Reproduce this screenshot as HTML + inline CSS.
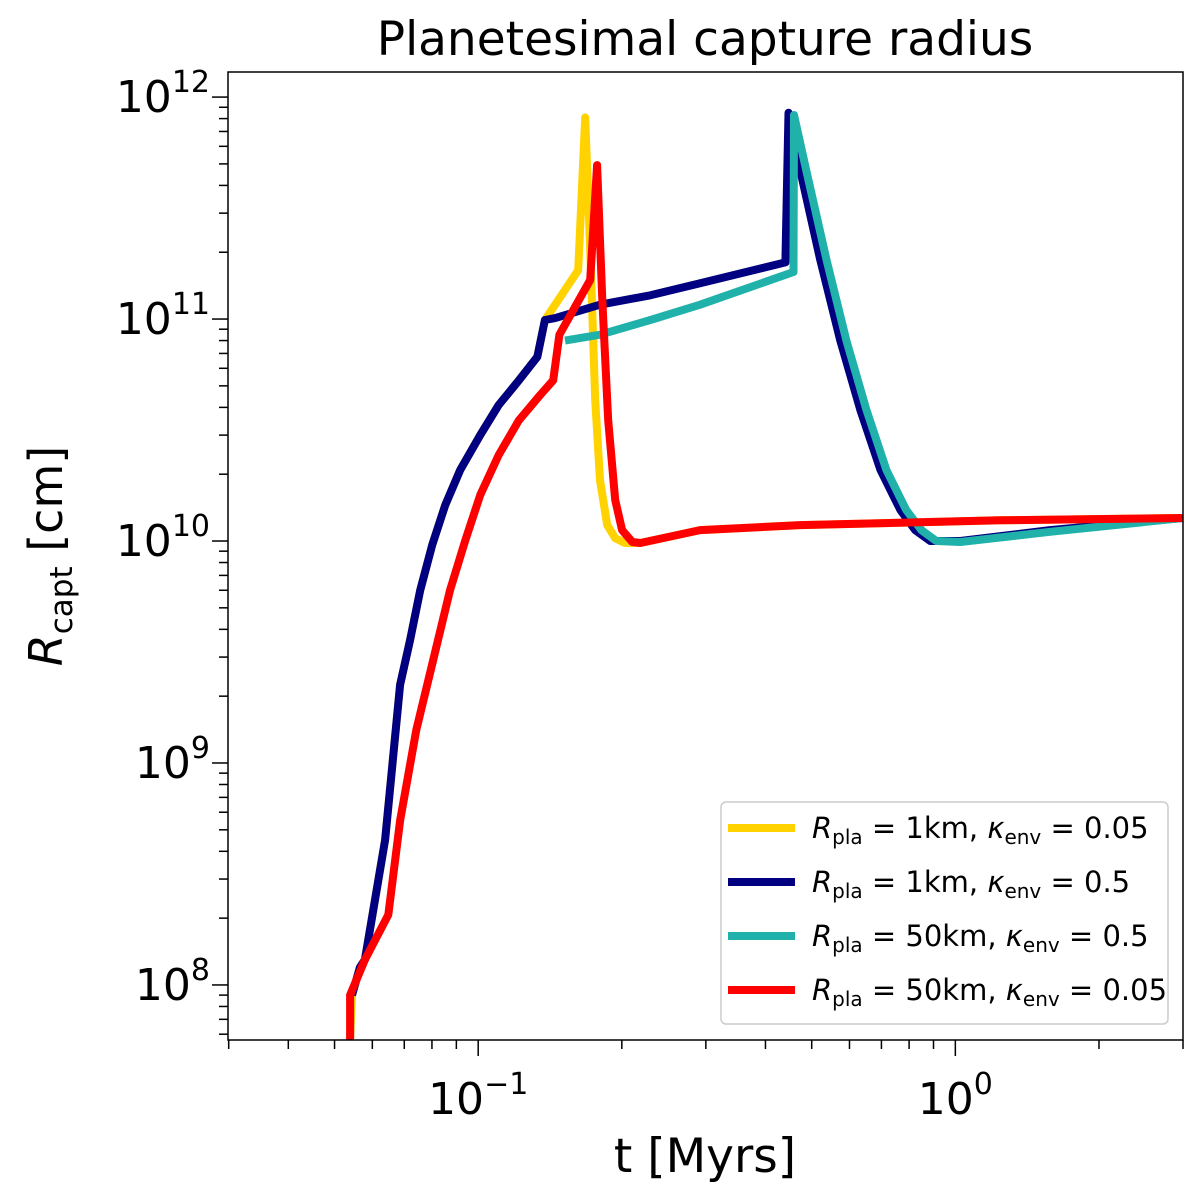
<!DOCTYPE html>
<html><head><meta charset="utf-8"><style>
body{margin:0;background:#fff;}
svg{display:block;font-family:"DejaVu Sans","Liberation Sans",sans-serif;}
</style></head><body>
<svg id="chart" width="1200" height="1200" viewBox="0 0 1200 1200">
<rect width="1200" height="1200" fill="#fff"/>
<text x="705" y="55" font-size="47" text-anchor="middle">Planetesimal capture radius</text>
<g id="plot"></g>
<text x="705" y="1172" font-size="47" text-anchor="middle">t [Myrs]</text>
<text transform="translate(62,556) rotate(-90)" font-size="46" text-anchor="middle"><tspan font-style="italic">R</tspan><tspan font-size="31" dy="10">capt</tspan><tspan dy="-10"> [cm]</tspan></text>
</svg>
<script>
const xTicks=[0.1,1];
const yTicks=[1e8,1e9,1e10,1e11,1e12];
const yellowT=[0.0539,0.0544,0.0565,0.0579,0.0638,0.0686,0.072,0.0756,0.0801,0.0853,0.0917,0.101,0.1104,0.1217,0.133,0.138,0.162,0.1676,0.1717,0.1759,0.180,0.1864,0.1937,0.203,0.2186,0.2918,0.473,1.242,3.0];
const yellowR=[5.65e7,9e7,1.2e8,1.3e8,4.5e8,2.25e9,3.58e9,6.0e9,9.6e9,1.45e10,2.09e10,3.0e10,4.1e10,5.3e10,6.75e10,9.9e10,1.66e11,8.1e11,2.05e11,4.32e10,1.88e10,1.18e10,1.03e10,9.8e9,9.8e9,1.12e10,1.18e10,1.24e10,1.27e10];
const navyT=[0.0544,0.0565,0.0579,0.0638,0.0686,0.072,0.0756,0.0801,0.0853,0.0917,0.101,0.1104,0.1217,0.133,0.138,0.145,0.180,0.2296,0.2918,0.4405,0.447,0.473,0.521,0.574,0.632,0.697,0.767,0.824,0.886,1.024,1.58,3.0];
const navyR=[9e7,1.2e8,1.3e8,4.5e8,2.25e9,3.58e9,6.0e9,9.6e9,1.45e10,2.09e10,3.0e10,4.1e10,5.3e10,6.75e10,9.9e10,1.01e11,1.16e11,1.28e11,1.45e11,1.8e11,8.5e11,4.69e11,1.85e11,8.0e10,3.9e10,2.09e10,1.38e10,1.12e10,1.0e10,1.0e10,1.12e10,1.27e10];
const tealT=[0.152,0.180,0.2296,0.2918,0.458,0.459,0.487,0.537,0.591,0.651,0.717,0.789,0.849,0.912,1.024,1.58,3.0];
const tealR=[8.0e10,8.5e10,9.9e10,1.16e11,1.63e11,8.3e11,4.69e11,1.85e11,8.0e10,3.9e10,2.09e10,1.38e10,1.12e10,1.0e10,9.9e9,1.1e10,1.27e10];
const redT=[0.0539,0.0539,0.0579,0.0648,0.0686,0.0742,0.0805,0.0873,0.094,0.101,0.1104,0.1217,0.1349,0.1436,0.148,0.1717,0.1775,0.182,0.1873,0.1937,0.2003,0.2104,0.2186,0.2918,0.473,1.242,3.0];
const redR=[5.65e7,9e7,1.3e8,2.07e8,5.5e8,1.41e9,2.91e9,6.0e9,1.01e10,1.61e10,2.44e10,3.5e10,4.55e10,5.3e10,8.5e10,1.5e11,4.94e11,1.22e11,3.5e10,1.53e10,1.12e10,9.9e9,9.8e9,1.12e10,1.18e10,1.24e10,1.27e10];

const L=228,R=1183,T=72,B=1040;
const xMin=Math.log10(0.0299),xMax=Math.log10(3.0);
const yMin=7.752,yMax=12.113;
const X=v=>L+(Math.log10(v)-xMin)/(xMax-xMin)*(R-L);
const Y=v=>B-(Math.log10(v)-yMin)/(yMax-yMin)*(B-T);
const NS='http://www.w3.org/2000/svg';
const g=document.getElementById('plot');
function mk(tag,attrs,parent){const e=document.createElementNS(NS,tag);for(const k in attrs)e.setAttribute(k,attrs[k]);(parent||g).appendChild(e);return e;}

const clip=mk('clipPath',{id:'cp'});mk('rect',{x:L,y:T,width:R-L,height:B-T},clip);

function series(ts,rs,color,name){
  const p=mk('path',{d:ts.map((t,i)=>(i?'L':'M')+X(t).toFixed(1)+','+Y(rs[i]).toFixed(1)).join(''),fill:'none',stroke:color,'stroke-width':8,'stroke-linejoin':'round','clip-path':'url(#cp)'});
  
  
}
series(yellowT,yellowR,'#ffd200','series-1km-k005');
series(navyT,navyR,'#000080','series-1km-k05');
series(tealT,tealR,'#20b2aa','series-50km-k05');
series(redT,redR,'#ff0000','series-50km-k005');

mk('rect',{x:L,y:T,width:R-L,height:B-T,fill:'none',stroke:'#000','stroke-width':1.5});

for(let d=-2;d<=0;d++)for(let m=1;m<=9;m++){const v=m*Math.pow(10,d);if(v<0.0299||v>3.0)continue;const x=X(v);
  const t=mk('line',{x1:x,x2:x,y1:B,y2:B+(m===1?16:9),stroke:'#000','stroke-width':1.5});
  }
xTicks.forEach(v=>{const e=Math.round(Math.log10(v));const t=mk('text',{x:X(v),y:B+74,'font-size':44,'text-anchor':'middle'});
  
  t.innerHTML='10<tspan font-size="30" dy="-20">'+(e<0?'\u2212'+(-e):e)+'</tspan>';});
for(let d=7;d<=12;d++)for(let m=1;m<=9;m++){const v=m*Math.pow(10,d);const ly=Math.log10(v);if(ly<yMin||ly>yMax)continue;const y=Y(v);
  const t=mk('line',{x1:L,x2:L-(m===1?16:9),y1:y,y2:y,stroke:'#000','stroke-width':1.5});
  }
yTicks.forEach(v=>{const e=Math.round(Math.log10(v));const t=mk('text',{x:L-18,y:Y(v)+15,'font-size':44,'text-anchor':'end'});
  
  t.innerHTML='10<tspan font-size="30" dy="-20">'+e+'</tspan>';});

const lg=mk('g',{});

mk('rect',{x:721,y:802,width:447,height:222,rx:5,fill:'#fff','fill-opacity':0.85,stroke:'#ccc','stroke-width':1.5},lg);
const entries=[['#ffd200','1km','0.05'],['#000080','1km','0.5'],['#20b2aa','50km','0.5'],['#ff0000','50km','0.05']];
entries.forEach((en,i)=>{const y=828+i*54;
  const e=mk('g',{},lg);
  mk('line',{x1:728,x2:795,y1:y,y2:y,stroke:en[0],'stroke-width':8},e);
  const t=mk('text',{x:812,y:y+10,'font-size':29},e);
  t.innerHTML='<tspan font-style="italic">R</tspan><tspan font-size="20" dy="6">pla</tspan><tspan dy="-6"> = '+en[1]+', </tspan><tspan font-style="italic">κ</tspan><tspan font-size="20" dy="6">env</tspan><tspan dy="-6"> = '+en[2]+'</tspan>';});
</script>
</body></html>
